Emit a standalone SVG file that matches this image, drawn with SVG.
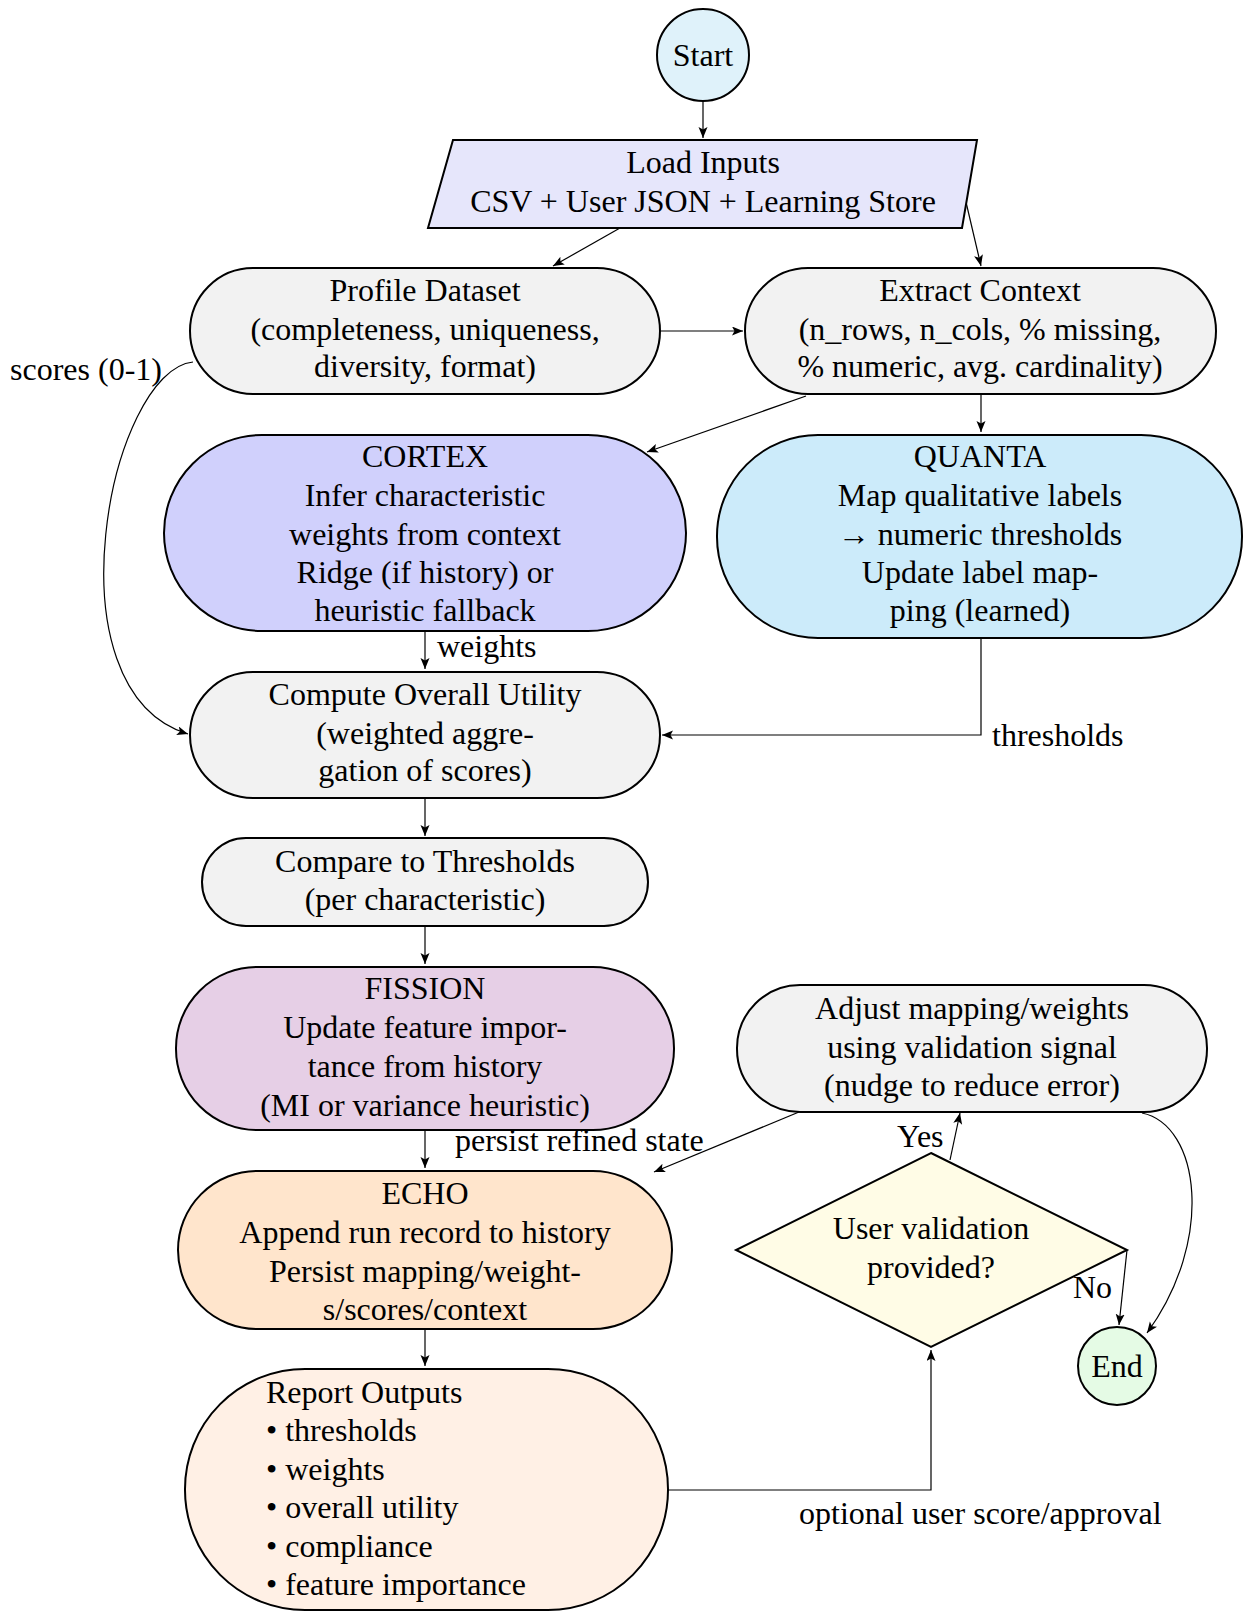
<svg xmlns="http://www.w3.org/2000/svg" width="1244" height="1611" viewBox="0 0 1244 1611">
<style>
text{font-family:"Liberation Serif","Times New Roman",serif;font-size:32px;fill:#000}
.c{text-anchor:middle}
.n{stroke:#000;stroke-width:2}
.e{fill:none;stroke:#000;stroke-width:1.2}
</style>
<defs>
<marker id="ah" markerUnits="userSpaceOnUse" markerWidth="12" markerHeight="10" refX="11" refY="4.5" orient="auto">
<path d="M0,0 L11,4.5 L0,9 L2.5,4.5 z" fill="#000"/>
</marker>
</defs>
<rect width="1244" height="1611" fill="#fff"/>

<g id="connectors">
<path class="e" d="M703 100 V138" marker-end="url(#ah)"/>
<path class="e" d="M620 228 L553 266" marker-end="url(#ah)"/>
<path class="e" d="M962 185 L981 266" marker-end="url(#ah)"/>
<path class="e" d="M660 331 H743" marker-end="url(#ah)"/>
<path class="e" d="M806 396 L647 452" marker-end="url(#ah)"/>
<path class="e" d="M981 395 V432" marker-end="url(#ah)"/>
<path class="e" d="M425 632 V669" marker-end="url(#ah)"/>
<path class="e" d="M981 638 V735 H662" marker-end="url(#ah)"/>
<path class="e" d="M193 362 C110 370 45 690 188 734" marker-end="url(#ah)"/>
<path class="e" d="M425 798 V836" marker-end="url(#ah)"/>
<path class="e" d="M425 926 V964" marker-end="url(#ah)"/>
<path class="e" d="M425 1130 V1168" marker-end="url(#ah)"/>
<path class="e" d="M799 1112 L654 1172" marker-end="url(#ah)"/>
<path class="e" d="M425 1329 V1366" marker-end="url(#ah)"/>
<path class="e" d="M668 1490 H931 V1350" marker-end="url(#ah)"/>
<path class="e" d="M950 1160 L960 1113" marker-end="url(#ah)"/>
<path class="e" d="M1127 1250 L1119 1325" marker-end="url(#ah)"/>
<path class="e" d="M1142 1113 C1200 1125 1215 1240 1147 1333" marker-end="url(#ah)"/>
<text x="437" y="657">weights</text>
<text x="992" y="746">thresholds</text>
<text x="10" y="380">scores (0-1)</text>
<text x="455" y="1151">persist refined state</text>
<text x="897" y="1147">Yes</text>
<text x="1073" y="1298">No</text>
<text x="799" y="1524">optional user score/approval</text>
</g>

<g id="start">
<circle class="n" cx="703" cy="55" r="46" fill="#dff2fa"/>
<text class="c" x="703" y="66">Start</text>
</g>

<g id="load">
<polygon class="n" points="453,140 977,140 962,228 428,228" fill="#e6e6fb"/>
<text class="c" x="703" y="173">Load Inputs</text>
<text class="c" x="703" y="212">CSV + User JSON + Learning Store</text>
</g>

<g id="profile">
<rect class="n" x="190" y="268" width="470" height="126" rx="63" fill="#f2f2f2"/>
<text class="c" x="425" y="301">Profile Dataset</text>
<text class="c" x="425" y="340">(completeness, uniqueness,</text>
<text class="c" x="425" y="377">diversity, format)</text>
</g>

<g id="extract">
<rect class="n" x="745" y="268" width="471" height="126" rx="63" fill="#f2f2f2"/>
<text class="c" x="980" y="301">Extract Context</text>
<text class="c" x="980" y="340">(n_rows, n_cols, % missing,</text>
<text class="c" x="980" y="377">% numeric, avg.  cardinality)</text>
</g>

<g id="cortex">
<rect class="n" x="164" y="435" width="522" height="196" rx="98" fill="#d0d0fc"/>
<text class="c" x="425" y="467">CORTEX</text>
<text class="c" x="425" y="506">Infer characteristic</text>
<text class="c" x="425" y="545">weights from context</text>
<text class="c" x="425" y="583">Ridge (if history) or</text>
<text class="c" x="425" y="621">heuristic fallback</text>
</g>

<g id="quanta">
<rect class="n" x="717" y="435" width="525" height="203" rx="101" fill="#ccebfa"/>
<text class="c" x="980" y="467">QUANTA</text>
<text class="c" x="980" y="506">Map qualitative labels</text>
<text class="c" x="980" y="545">→ numeric thresholds</text>
<text class="c" x="980" y="583">Update label map-</text>
<text class="c" x="980" y="621">ping (learned)</text>
</g>

<g id="compute">
<rect class="n" x="190" y="672" width="470" height="126" rx="63" fill="#f2f2f2"/>
<text class="c" x="425" y="705">Compute Overall Utility</text>
<text class="c" x="425" y="744">(weighted aggre-</text>
<text class="c" x="425" y="781">gation of scores)</text>
</g>

<g id="compare">
<rect class="n" x="202" y="838" width="446" height="88" rx="44" fill="#f2f2f2"/>
<text class="c" x="425" y="872">Compare to Thresholds</text>
<text class="c" x="425" y="910">(per characteristic)</text>
</g>

<g id="fission">
<rect class="n" x="176" y="967" width="498" height="163" rx="81" fill="#e6cfe6"/>
<text class="c" x="425" y="999">FISSION</text>
<text class="c" x="425" y="1038">Update feature impor-</text>
<text class="c" x="425" y="1077">tance from history</text>
<text class="c" x="425" y="1116">(MI or variance heuristic)</text>
</g>

<g id="echo">
<rect class="n" x="178" y="1171" width="494" height="158" rx="79" fill="#ffe5cc"/>
<text class="c" x="425" y="1204">ECHO</text>
<text class="c" x="425" y="1243">Append run record to history</text>
<text class="c" x="425" y="1282">Persist mapping/weight-</text>
<text class="c" x="425" y="1320">s/scores/context</text>
</g>

<g id="adjust">
<rect class="n" x="737" y="985" width="470" height="127" rx="63" fill="#f2f2f2"/>
<text class="c" x="972" y="1019">Adjust mapping/weights</text>
<text class="c" x="972" y="1058">using validation signal</text>
<text class="c" x="972" y="1096">(nudge to reduce error)</text>
</g>

<g id="decision">
<polygon class="n" points="931,1153 1127,1250 931,1347 736,1250" fill="#fffce6"/>
<text class="c" x="931" y="1239">User validation</text>
<text class="c" x="931" y="1278">provided?</text>
</g>

<g id="end">
<circle class="n" cx="1117" cy="1366" r="39" fill="#e5fbe5"/>
<text class="c" x="1117" y="1377">End</text>
</g>

<g id="report">
<rect class="n" x="185" y="1369" width="483" height="241" rx="120" fill="#fff0e5"/>
<text x="266" y="1403">Report Outputs</text>
<text x="266" y="1441">• thresholds</text>
<text x="266" y="1480">• weights</text>
<text x="266" y="1518">• overall utility</text>
<text x="266" y="1557">• compliance</text>
<text x="266" y="1595">• feature importance</text>
</g>
</svg>
